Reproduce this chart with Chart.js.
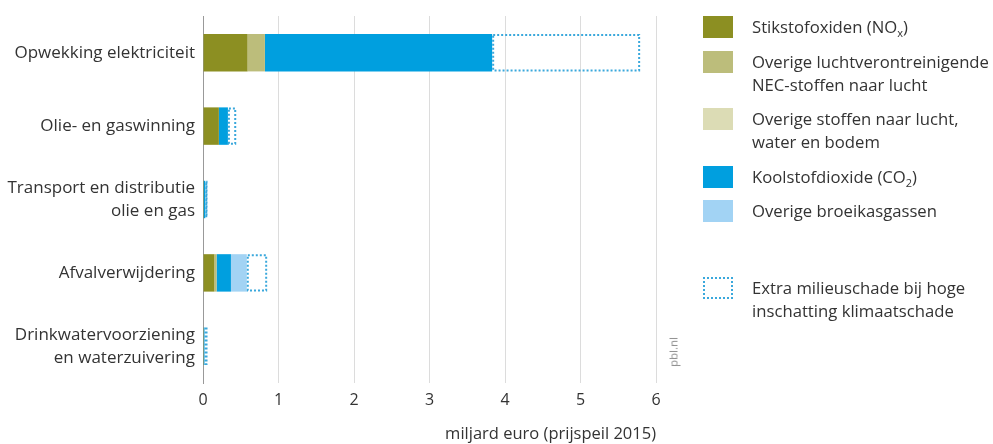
<!DOCTYPE html>
<html>
<head>
<meta charset="utf-8">
<script src="https://cdn.jsdelivr.net/npm/chart.js@4.4.1/dist/chart.umd.min.js"></script>
<style>
  html, body { margin: 0; padding: 0; background: #fff; }
  #wrap { position: relative; width: 993px; height: 444px; font-family: "Open Sans", sans-serif; color: #333; overflow: hidden; }
  #c { position: absolute; left: 0; top: 0; }
  .sw { position: absolute; left: 703px; width: 30px; height: 22px; box-sizing: border-box; }
  .tx { position: absolute; left: 752px; font-size: 16.7px; line-height: 23px; color: #333; white-space: nowrap; }
  .tx sub { font-size: 11px; vertical-align: -4px; line-height: 0; }
  #pbl { position: absolute; left: 673px; top: 352px; transform: translate(-50%, -50%) rotate(-90deg); font-size: 11.5px; color: #8a8a8a; }
</style>
</head>
<body>
<div id="wrap">
  <canvas id="c" width="993" height="444"></canvas>
  <div class="sw" style="top:16px;background:#8c8f22"></div>
  <div class="tx" style="top:15px">Stikstofoxiden (NO<sub>x</sub>)</div>
  <div class="sw" style="top:51px;background:#bcbd7b"></div>
  <div class="tx" style="top:50px">Overige luchtverontreinigende<br>NEC-stoffen naar lucht</div>
  <div class="sw" style="top:108px;background:#dcdcb5"></div>
  <div class="tx" style="top:107px">Overige stoffen naar lucht,<br>water en bodem</div>
  <div class="sw" style="top:166px;background:#009fdf"></div>
  <div class="tx" style="top:165px">Koolstofdioxide (CO<sub>2</sub>)</div>
  <div class="sw" style="top:200px;background:#a2d3f4"></div>
  <div class="tx" style="top:199px">Overige broeikasgassen</div>
  <div class="sw" style="top:277px;border:2px dotted #3aa8dc"></div>
  <div class="tx" style="top:276px">Extra milieuschade bij hoge<br>inschatting klimaatschade</div>
  <div id="pbl">pbl.nl</div>
</div>
<script>
const categories = [
  ["Opwekking elektriciteit"],
  ["Olie- en gaswinning"],
  ["Transport en distributie", "olie en gas"],
  ["Afvalverwijdering"],
  ["Drinkwatervoorziening", "en waterzuivering"]
];
const noxValues     = [0.59, 0.21, 0.01, 0.15, 0.01];
const necValues     = [0.23, 0.00, 0.00, 0.03, 0.00];
const stoffenValues = [0.00, 0.00, 0.00, 0.00, 0.00];
const co2Values     = [3.01, 0.12, 0.02, 0.19, 0.01];
const ghgValues     = [0.00, 0.00, 0.00, 0.21, 0.00];
const extraValues   = [1.96, 0.11, 0.03, 0.27, 0.04];
const xTicks = [0, 1, 2, 3, 4, 5, 6];

const dottedPlugin = {
  id: 'dotted',
  afterDatasetsDraw(chart) {
    const ctx = chart.ctx;
    chart.data.datasets.forEach((ds, i) => {
      if (!ds.dotted) return;
      const meta = chart.getDatasetMeta(i);
      ctx.save();
      ctx.strokeStyle = '#3aa8dc';
      ctx.lineWidth = 2;
      ctx.setLineDash([2, 2]);
      meta.data.forEach(el => {
        const p = el.getProps(['x', 'y', 'base', 'height'], true);
        const x0 = Math.min(p.base, p.x), x1 = Math.max(p.base, p.x);
        const y0 = p.y - p.height / 2, y1 = p.y + p.height / 2;
        ctx.strokeRect(x0 + 1, y0 + 1, x1 - x0 - 2, y1 - y0 - 2);
      });
      ctx.restore();
    });
  }
};

const common = { barPercentage: 0.51, categoryPercentage: 1, borderWidth: 0 };
new Chart(document.getElementById('c'), {
  type: 'bar',
  data: {
    labels: categories,
    datasets: [
      { label: 'Stikstofoxiden (NOx)', data: noxValues, backgroundColor: '#8c8f22', ...common },
      { label: 'Overige luchtverontreinigende NEC-stoffen naar lucht', data: necValues, backgroundColor: '#bcbd7b', ...common },
      { label: 'Overige stoffen naar lucht, water en bodem', data: stoffenValues, backgroundColor: '#dcdcb5', ...common },
      { label: 'Koolstofdioxide (CO2)', data: co2Values, backgroundColor: '#009fdf', ...common },
      { label: 'Overige broeikasgassen', data: ghgValues, backgroundColor: '#a2d3f4', ...common },
      { label: 'Extra milieuschade bij hoge inschatting klimaatschade', data: extraValues, backgroundColor: 'rgba(255,255,255,0)', dotted: true, ...common }
    ]
  },
  options: {
    indexAxis: 'y',
    responsive: false,
    animation: false,
    layout: { padding: { left: 0, right: 337, top: 16, bottom: 0 } },
    plugins: { legend: { display: false }, tooltip: { enabled: false } },
    scales: {
      x: {
        stacked: true, min: 0, max: 6,
        afterBuildTicks(scale) { scale.ticks = xTicks.map(v => ({ value: v })); },
        afterFit(scale) { scale.height = 61; },
        grid: { color: '#dcdcdc', lineWidth: 1, drawTicks: false },
        border: { display: false },
        ticks: { color: '#333', padding: 8, font: { family: 'Open Sans', size: 16 } },
        title: { display: true, text: 'miljard euro (prijspeil 2015)', align: 'end', color: '#333', font: { family: 'Open Sans', size: 16.5 }, padding: { top: 14, bottom: 0 } }
      },
      y: {
        stacked: true,
        afterFit(scale) { scale.width = 203; scale.paddingTop = 0; scale.paddingBottom = 0; },
        grid: { display: false, drawTicks: false },
        border: { display: true, color: '#999', width: 1 },
        ticks: { color: '#333', padding: 8, font: { family: 'Open Sans', size: 17, lineHeight: 1.35 } }
      }
    }
  },
  plugins: [dottedPlugin]
});
</script>
</body>
</html>
